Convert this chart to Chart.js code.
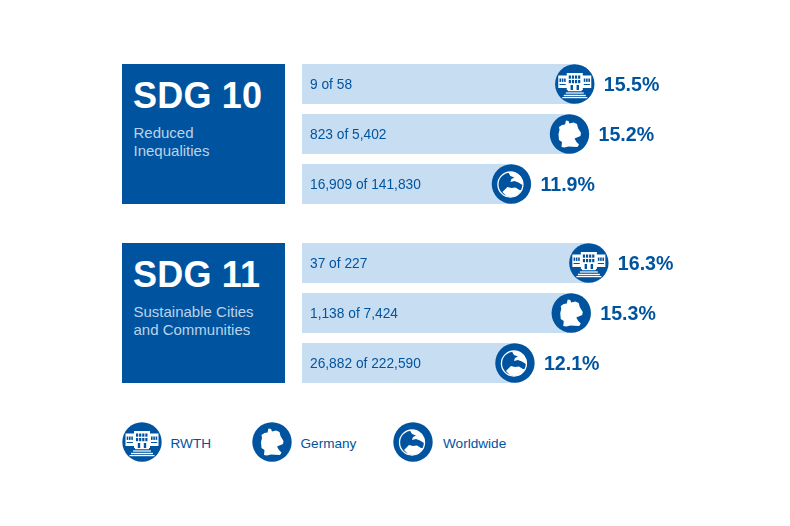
<!DOCTYPE html>
<html lang="en">
<head>
<meta charset="UTF-8">
<title>SDG 10 and SDG 11 shares</title>
<script src="https://cdn.jsdelivr.net/npm/chart.js"></script>
<style>
    body { margin: 0; background: #fff; font-family: "Liberation Sans", Arial, sans-serif; color: #00549f; }
    #page { position: relative; width: 790px; height: 526px; overflow: hidden; }
    .block { position: absolute; left: 122px; width: 163px; height: 140px; background: #00549f; color: #fff; }
    .block b { position: absolute; left: 11px; top: 11px; font-size: 36px; line-height: 42px; letter-spacing: 0.2px; white-space: nowrap; }
    .block span { position: absolute; left: 11.5px; top: 60px; font-size: 15px; line-height: 18px; color: #bcd2e9; white-space: nowrap; }
    .plot { position: absolute; left: 302px; width: 488px; height: 150px; }
    .legIcon { position: absolute; top: 422px; width: 40px; height: 40px; }
    .legText { position: absolute; top: 436px; font-size: 13.6px; line-height: 16px; }
</style>
</head>
<body>
<div id="page">
    <div class="block" style="top:64px"><b id="t0"></b><span id="s0"></span></div>
    <div class="block" style="top:243px"><b id="t1"></b><span id="s1"></span></div>
    <div class="plot" style="top:59px"><canvas id="chart0" width="488" height="150"></canvas></div>
    <div class="plot" style="top:238px"><canvas id="chart1" width="488" height="150"></canvas></div>
    <canvas class="legIcon" id="leg0" width="40" height="40" style="left:122px"></canvas>
    <div class="legText" style="left:170.5px" id="legT0"></div>
    <canvas class="legIcon" id="leg1" width="40" height="40" style="left:252px"></canvas>
    <div class="legText" style="left:300.5px" id="legT1"></div>
    <canvas class="legIcon" id="leg2" width="40" height="40" style="left:393px"></canvas>
    <div class="legText" style="left:443px" id="legT2"></div>
</div>

<script>
// data
var categories = ['RWTH', 'Germany', 'Worldwide'];
var sdgTitles = ['SDG 10', 'SDG 11'];
var sdgNames = [['Reduced', 'Inequalities'], ['Sustainable Cities', 'and Communities']];
var sdg10Values = [15.5, 15.2, 11.9];
var sdg11Values = [16.3, 15.3, 12.1];
var sdg10Counts = ['9 of 58', '823 of 5,402', '16,909 of 141,830'];
var sdg11Counts = ['37 of 227', '1,138 of 7,424', '26,882 of 222,590'];

var BLUE = '#00549f';
var LIGHT = '#c7ddf2';

// icons, drawn in a 40 unit box around the centre
function drawIcon(ctx, kind, x, y) {
    ctx.save();
    ctx.translate(x, y);
    ctx.fillStyle = BLUE;
    ctx.beginPath();
    ctx.arc(0, 0, 19.7, 0, Math.PI * 2);
    ctx.fill();
    ctx.fillStyle = '#fff';
    ctx.strokeStyle = '#fff';
    if (kind == 'RWTH') drawBuilding(ctx);
    if (kind == 'Germany') drawGermany(ctx);
    if (kind == 'Worldwide') drawGlobe(ctx);
    ctx.restore();
}

function drawBuilding(ctx) {
    var i;
    // white body: wings, middle block, steps
    ctx.fillRect(-16.5, -8.5, 33, 12.5);
    ctx.fillRect(-8, -11, 16, 17);
    ctx.fillRect(-7, 6, 14, 1.2);
    ctx.fillRect(-9, 8.4, 18, 1.2);
    ctx.fillRect(-11, 10.8, 22, 1.4);
    ctx.fillRect(-12.5, 13, 25, 1.2);
    ctx.fillStyle = BLUE;
    // wing windows
    for (i = 0; i < 3; i++) {
        ctx.fillRect(-15.3 + i * 2.3, -5.5, 1.6, 3.4);
        ctx.fillRect(9 + i * 2.3, -5.5, 1.6, 3.4);
    }
    ctx.fillRect(-15.3, 0, 6.2, 1);
    ctx.fillRect(9, 0, 6.2, 1);
    // middle windows and doors
    for (i = 0; i < 4; i++) {
        ctx.fillRect(-6 + i * 3.1, -8.5, 2.2, 3.2);
        ctx.fillRect(-6 + i * 3.1, -4, 2.2, 3.2);
    }
    ctx.fillRect(-4.2, 1, 2.4, 5);
    ctx.fillRect(1.8, 1, 2.4, 5);
}

function drawGermany(ctx) {
    ctx.beginPath();
    ctx.moveTo(-3.5, -13.5);
    ctx.lineTo(-1, -13);
    ctx.lineTo(0, -10.5);
    ctx.lineTo(4, -11.5);
    ctx.lineTo(7.5, -10);
    ctx.lineTo(8.5, -6);
    ctx.lineTo(11.5, -1);
    ctx.lineTo(11, 2);
    ctx.lineTo(5, 4.5);
    ctx.lineTo(7, 8);
    ctx.lineTo(9.5, 10.5);
    ctx.lineTo(8, 13);
    ctx.lineTo(3, 12.7);
    ctx.lineTo(-1, 12.5);
    ctx.lineTo(-5, 13.5);
    ctx.lineTo(-8, 13);
    ctx.lineTo(-7.5, 8);
    ctx.lineTo(-10.5, 6);
    ctx.lineTo(-11, 0);
    ctx.lineTo(-10, -4);
    ctx.lineTo(-10.5, -7);
    ctx.lineTo(-7.5, -9);
    ctx.lineTo(-4.5, -9.5);
    ctx.closePath();
    ctx.fill();
}

function drawGlobe(ctx) {
    ctx.lineWidth = 1.3;
    ctx.beginPath();
    ctx.arc(-1, 0.5, 12.5, 0, Math.PI * 2);
    ctx.stroke();
    // top land mass
    ctx.beginPath();
    ctx.moveTo(-3, -11.5);
    ctx.lineTo(3, -12);
    ctx.lineTo(9, -8);
    ctx.lineTo(11.5, -2);
    ctx.lineTo(11, 1);
    ctx.lineTo(7, -1.5);
    ctx.lineTo(3, -3);
    ctx.lineTo(-1, -2);
    ctx.lineTo(0, -5);
    ctx.lineTo(3, -6.5);
    ctx.lineTo(-1, -8);
    ctx.closePath();
    ctx.fill();
    // lower land mass
    ctx.beginPath();
    ctx.moveTo(-9, 8);
    ctx.lineTo(-4, 3);
    ctx.lineTo(0, 4);
    ctx.lineTo(4, 3.5);
    ctx.lineTo(8, 6);
    ctx.lineTo(10, 6);
    ctx.lineTo(6, 11);
    ctx.lineTo(0, 13);
    ctx.lineTo(-5, 12);
    ctx.closePath();
    ctx.fill();
    // small blue spot
    ctx.fillStyle = BLUE;
    ctx.fillRect(-4.5, -7, 1.5, 3);
}

// icon and percentage at the end of each bar, count inside the bar
var endLabels = {
    id: 'endLabels',
    afterDatasetsDraw: function (chart, args, opts) {
        var ctx = chart.ctx;
        var bars = chart.getDatasetMeta(0).data;
        ctx.save();
        ctx.textBaseline = 'middle';
        bars.forEach(function (bar, i) {
            drawIcon(ctx, categories[i], bar.x, bar.y);
            ctx.fillStyle = BLUE;
            ctx.font = '13.75px "Liberation Sans"';
            ctx.fillText(opts.counts[i], 8, bar.y + 1);
            ctx.font = 'bold 19.6px "Liberation Sans"';
            ctx.fillText(chart.data.datasets[0].data[i].toFixed(1) + '%', bar.x + 29, bar.y + 2);
        });
        ctx.restore();
    }
};

function makeChart(id, values, counts) {
    new Chart(document.getElementById(id), {
        type: 'bar',
        data: {
            labels: categories,
            datasets: [{ data: values, backgroundColor: LIGHT, borderWidth: 0, barThickness: 39.5 }]
        },
        plugins: [endLabels],
        options: {
            indexAxis: 'y',
            responsive: false,
            animation: false,
            layout: { padding: 0 },
            scales: {
                x: { display: false, min: 0, max: 27.73 },
                y: { display: false }
            },
            plugins: {
                legend: { display: false },
                tooltip: { enabled: false },
                endLabels: { counts: counts }
            }
        }
    });
}

sdgTitles.forEach(function (t, i) {
    document.getElementById('t' + i).textContent = t;
    document.getElementById('s' + i).innerHTML = sdgNames[i].join('<br>');
});

makeChart('chart0', sdg10Values, sdg10Counts);
makeChart('chart1', sdg11Values, sdg11Counts);

categories.forEach(function (c, i) {
    drawIcon(document.getElementById('leg' + i).getContext('2d'), c, 20, 20);
    document.getElementById('legT' + i).textContent = c;
});
</script>
</body>
</html>
